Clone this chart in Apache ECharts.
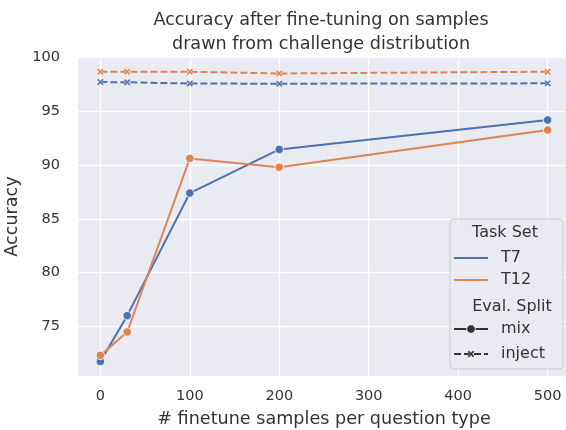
<!DOCTYPE html>
<html>
<head>
<meta charset="utf-8">
<script src="https://cdn.jsdelivr.net/npm/echarts@6/dist/echarts.min.js"></script>
<style>
html,body{margin:0;padding:0;background:#fff;}
#c{width:566px;height:430px;}
</style>
</head>
<body>
<div id="c"></div>
<script>
const samples = [0, 30, 100, 200, 500];
const t7Mix = [71.74, 76.0, 87.4, 91.46, 94.19];
const t7Inject = [97.72, 97.7, 97.58, 97.57, 97.6];
const t12Mix = [72.3, 74.48, 90.62, 89.8, 93.26];
const t12Inject = [98.68, 98.68, 98.68, 98.52, 98.68];
const xTicks = [0, 100, 200, 300, 400, 500];
const yTicks = [75, 80, 85, 90, 95, 100];

const BLUE = '#4c72b0', ORANGE = '#dd8452';
const FONT = 'DejaVu Sans';
const TXT = '#333333';
const XPATH = 'path://M0,2 L2,0 L5,3 L8,0 L10,2 L7,5 L10,8 L8,10 L5,7 L2,10 L0,8 L3,5 Z';
const XPOLY = [[0,2],[2,0],[5,3],[8,0],[10,2],[7,5],[10,8],[8,10],[5,7],[2,10],[0,8],[3,5]];

function pts(arr){ return samples.map((x,i)=>[x, arr[i]]); }

function mixSeries(name, data, color){
  return {type:'line', name, data: pts(data), symbol:'circle', symbolSize:8.5,
    lineStyle:{color, width:2}, itemStyle:{color, borderColor:'#fff', borderWidth:0.8},
    emphasis:{disabled:true}, animation:false};
}
function injSeries(name, data, color){
  return {type:'line', name, data: pts(data), symbol:XPATH, symbolSize:7,
    lineStyle:{color, width:2, type:[7,3]}, itemStyle:{color, borderColor:'#fff', borderWidth:0.5},
    emphasis:{disabled:true}, animation:false};
}

const legendChildren = [
  {type:'rect', z2:0, shape:{x:0,y:0,width:113,height:150,r:4}, style:{fill:'rgba(234,234,242,0.85)', stroke:'#cccccc', lineWidth:1}},
  {type:'text', x:55, y:14, style:{text:'Task Set', font:'16px "DejaVu Sans"', fill:TXT, align:'center', verticalAlign:'middle'}},
  {type:'line', shape:{x1:4,y1:39,x2:38,y2:39}, style:{stroke:BLUE, lineWidth:2}},
  {type:'text', x:51, y:39, style:{text:'T7', font:'16px "DejaVu Sans"', fill:TXT, verticalAlign:'middle'}},
  {type:'line', shape:{x1:4,y1:61,x2:38,y2:61}, style:{stroke:ORANGE, lineWidth:2}},
  {type:'text', x:51, y:61, style:{text:'T12', font:'16px "DejaVu Sans"', fill:TXT, verticalAlign:'middle'}},
  {type:'text', x:62, y:88, style:{text:'Eval. Split', font:'16px "DejaVu Sans"', fill:TXT, align:'center', verticalAlign:'middle'}},
  {type:'line', shape:{x1:4,y1:110,x2:38,y2:110}, style:{stroke:'#333333', lineWidth:2}},
  {type:'circle', shape:{cx:21,cy:110,r:4.3}, style:{fill:'#333333', stroke:'#fff', lineWidth:0.8}},
  {type:'text', x:51, y:110, style:{text:'mix', font:'16px "DejaVu Sans"', fill:TXT, verticalAlign:'middle'}},
  {type:'line', shape:{x1:4,y1:135,x2:38,y2:135}, style:{stroke:'#333333', lineWidth:2, lineDash:[7,3]}},
  {type:'polygon', x:17.5, y:131.5, scaleX:0.7, scaleY:0.7, shape:{points:XPOLY}, style:{fill:'#333333', stroke:'#fff', lineWidth:0.5}},
  {type:'text', x:51, y:135, style:{text:'inject', font:'16px "DejaVu Sans"', fill:TXT, verticalAlign:'middle'}}
].map((c, i) => Object.assign({z:100, z2: i + 1}, c));

const chart = echarts.init(document.getElementById('c'), null, {renderer:'canvas'});
chart.setOption({
  backgroundColor:'#ffffff',
  animation:false,
  title:{
    text:'Accuracy after fine-tuning on samples\ndrawn from challenge distribution',
    left:321, top:9, textAlign:'center', padding:0,
    textStyle:{fontFamily:FONT, fontSize:17.6, fontWeight:'normal', color:TXT, lineHeight:23.5}
  },
  grid:{left:78, top:57, width:492, height:319, show:true, backgroundColor:'#eaeaf2', borderWidth:0,
    containLabel:false, outerBoundsMode:'none'},
  xAxis:{
    type:'value', min:-25, max:525,
    name:'# finetune samples per question type', nameLocation:'middle', nameGap:34,
    nameTextStyle:{fontFamily:FONT, fontSize:17.6, color:TXT},
    axisLine:{show:false}, axisTick:{show:false, customValues:xTicks},
    axisLabel:{customValues:xTicks, fontFamily:FONT, fontSize:14.5, color:TXT, margin:12, lineHeight:17},
    splitLine:{show:true, lineStyle:{color:'#ffffff', width:1.3}}
  },
  yAxis:{
    type:'value', min:70.39, max:100.05,
    name:'Accuracy', nameLocation:'middle', nameGap:56,
    nameTextStyle:{fontFamily:FONT, fontSize:17.6, color:TXT},
    axisLine:{show:false}, axisTick:{show:false, customValues:yTicks},
    axisLabel:{customValues:yTicks, fontFamily:FONT, fontSize:14.5, color:TXT, margin:18},
    splitLine:{show:true, lineStyle:{color:'#ffffff', width:1.3}}
  },
  series:[
    mixSeries('T7 mix', t7Mix, BLUE),
    injSeries('T7 inject', t7Inject, BLUE),
    mixSeries('T12 mix', t12Mix, ORANGE),
    injSeries('T12 inject', t12Inject, ORANGE)
  ],
  graphic:[{
    type:'group', x:450, y:219, z:100,
    children: legendChildren
  }]
});
</script>
</body>
</html>
